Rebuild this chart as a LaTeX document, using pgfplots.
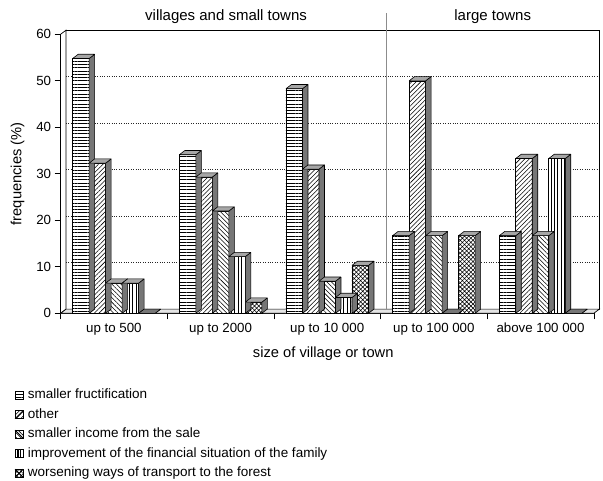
\documentclass[border=0pt]{standalone}
\usepackage{fontspec}
\setmainfont{Liberation Sans}
\usepackage{pgfplots}
\usepackage{pgfplotstable}
\pgfplotsset{compat=1.18}
\usetikzlibrary{patterns.meta}

\definecolor{sidegray}{HTML}{767676}
\definecolor{topgray}{HTML}{A6A6A6}
\definecolor{floorgray}{HTML}{E4E4E4}
\definecolor{sepgray}{HTML}{8C8C8C}

% depth of the pseudo-3D extrusion, bar width and vertical unit (pt)
\newcommand\dx{5.5}
\newcommand\dy{4.2}
\newcommand\bw{16.5}
\newcommand\yu{4.65}

% right side face and top face of a bar; the mark sits at the top centre of the front face
\pgfdeclareplotmark{bar3d}{%
  \pgfmathsetmacro\hh{\rawy*\yu}%
  \pgfsetlinewidth{0.6pt}%
  \pgfsetbeveljoin
  \pgfsetstrokecolor{black}%
  \pgfsetfillcolor{sidegray}%
  \pgfpathmoveto{\pgfpoint{0.5*\bw}{-\hh}}%
  \pgfpathlineto{\pgfpoint{0.5*\bw+\dx}{\dy-\hh}}%
  \pgfpathlineto{\pgfpoint{0.5*\bw+\dx}{\dy}}%
  \pgfpathlineto{\pgfpoint{0.5*\bw}{0}}%
  \pgfpathclose
  \pgfusepathqfillstroke
  % empty categories show only a dark lid lying on the floor
  \ifdim\hh pt<0.01pt\relax\pgfsetfillcolor{sidegray}\else\pgfsetfillcolor{topgray}\fi
  \pgfpathmoveto{\pgfpoint{-0.5*\bw}{0}}%
  \pgfpathlineto{\pgfpoint{-0.5*\bw+\dx}{\dy}}%
  \pgfpathlineto{\pgfpoint{0.5*\bw+\dx}{\dy}}%
  \pgfpathlineto{\pgfpoint{0.5*\bw}{0}}%
  \pgfpathclose
  \pgfusepathqfillstroke
}

% frequencies (%) of the reasons, by size of village or town
\pgfplotstableread{
cat s1   s2   s3   s4   s5
0   54.8 32.3 6.5  6.5  0
1   34.1 29.3 22.0 12.2 2.4
2   48.3 31.0 6.9  3.4  10.3
3   16.7 50.0 16.7 0    16.7
4   16.7 33.3 16.7 33.3 0
}\freqtable

\pgfplotsset{
  depth/.style={forget plot, scatter, only marks, mark=bar3d,
    scatter/use mapped color={draw=black, fill=black},
    visualization depends on={rawy \as \rawy},
    mark options={xshift=#1}},
  front/.style={ybar, bar width=\bw pt, bar shift=#1, draw=black,
    line width=0.6pt, fill=white},
}

\begin{document}
\begin{tikzpicture}
\useasboundingbox (-60.6pt,-166.7pt) rectangle ++(603pt,480pt);
\begin{axis}[
  x=106.65pt, y=\yu pt,
  xmin=-0.5, xmax=4.5, ymin=0, ymax=60,
  clip=false,
  axis x line*=bottom, axis y line*=left,
  axis line style={-, line width=0.7pt},
  xtick={-0.5,0.5,...,4.5},
  x tick label as interval,
  xticklabels={up to 500, up to 2000, up to 10 000, up to 100 000, above 100 000},
  ytick={0,10,...,60},
  tick align=outside,
  major tick length=6pt,
  tick style={black, line width=0.7pt},
  ymajorgrids,
  major grid style={dotted, line width=0.7pt, black!85, xshift=\dx pt, yshift=\dy pt},
  /pgf/number format/assume math mode=true,
  tick label style={font=\fontsize{13.3}{15}\selectfont},
  xlabel={size of village or town},
  ylabel={frequencies (\%)},
  every axis x label/.style={at={(axis description cs:0.5,0)}, anchor=center,
    yshift=-40pt, xshift=-4pt, font=\fontsize{14.7}{17}\selectfont},
  every axis y label/.style={at={(axis description cs:0,0.5)},
    xshift=-43pt, rotate=90, anchor=center, font=\fontsize{14.7}{17}\selectfont},
  legend style={at={(axis description cs:0,0)}, anchor=north west,
    xshift=-46pt, yshift=-73.2pt, draw=none, fill=none, inner sep=0pt,
    font=\fontsize{13.5}{16}\selectfont, row sep=2.5pt, column sep=2.5pt,
    nodes={inner sep=2pt, text height=10pt, text depth=3pt}},
  legend cell align=left,
]
% walls and floor
\draw[line width=0.7pt, fill=white]
  (axis cs:-0.5,0) -- (axis cs:-0.5,60)
  -- ([shift={(\dx pt,\dy pt)}]axis cs:-0.5,60)
  -- ([shift={(\dx pt,\dy pt)}]axis cs:-0.5,0) -- cycle;
\draw[line width=0.7pt]
  ([shift={(\dx pt,\dy pt)}]axis cs:-0.5,60)
  -- ([shift={(\dx pt,\dy pt)}]axis cs:4.5,60)
  -- ([shift={(\dx pt,\dy pt)}]axis cs:4.5,0);
\draw[line width=0.7pt, fill=floorgray]
  (axis cs:-0.5,0) -- (axis cs:4.5,0)
  -- ([shift={(\dx pt,\dy pt)}]axis cs:4.5,0)
  -- ([shift={(\dx pt,\dy pt)}]axis cs:-0.5,0) -- cycle;
% group separator and headers
\draw[sepgray, line width=0.9pt]
  ([shift={(\dx pt,\dy pt)}]axis cs:2.5,0) -- ([shift={(\dx pt,21.3pt)}]axis cs:2.5,60);
\node[anchor=base, font=\fontsize{15}{17}\selectfont]
  at ([shift={(\dx pt,14.3pt)}]axis cs:1,60) {villages and small towns};
\node[anchor=base, font=\fontsize{15}{17}\selectfont]
  at ([shift={(\dx pt,14.3pt)}]axis cs:3.5,60) {large towns};

\addplot[depth=-33pt] table[x=cat,y=s1]{\freqtable};
\addplot[front=-33pt,
  postaction={pattern={Lines[angle=0,distance=3.3pt,line width=0.55pt]}},
  legend image code/.code={\draw[line width=0.6pt] (0pt,-4pt) rectangle (8pt,4pt);
    \draw[line width=0.6pt] (0pt,1pt) -- (8pt,1pt);}]
  table[x=cat,y=s1]{\freqtable};
\addlegendentry{smaller fructification}

\addplot[depth=-16.5pt] table[x=cat,y=s2]{\freqtable};
\addplot[front=-16.5pt,
  postaction={pattern={Lines[angle=45,distance=3.2pt,line width=0.55pt]}},
  legend image code/.code={\draw[line width=0.6pt] (0pt,-4pt) rectangle (8pt,4pt);
    \draw[line width=0.6pt] (0pt,-4pt) -- (8pt,4pt);}]
  table[x=cat,y=s2]{\freqtable};
\addlegendentry{other}

\addplot[depth=0pt] table[x=cat,y=s3]{\freqtable};
\addplot[front=0pt,
  postaction={pattern={Lines[angle=-45,distance=3.2pt,line width=0.55pt]}},
  legend image code/.code={\draw[line width=0.6pt] (0pt,-4pt) rectangle (8pt,4pt);
    \draw[line width=0.6pt] (0pt,4pt) -- (8pt,-4pt);}]
  table[x=cat,y=s3]{\freqtable};
\addlegendentry{smaller income from the sale}

\addplot[depth=16.5pt] table[x=cat,y=s4]{\freqtable};
\addplot[front=16.5pt,
  postaction={pattern={Lines[angle=90,distance=3.4pt,line width=0.55pt]}},
  legend image code/.code={\draw[line width=0.6pt] (0pt,-4pt) rectangle (8pt,4pt);
    \draw[line width=0.6pt] (3pt,-4pt) -- (3pt,4pt) (5pt,-4pt) -- (5pt,4pt);}]
  table[x=cat,y=s4]{\freqtable};
\addlegendentry{improvement of the financial situation of the family}

\addplot[depth=33pt] table[x=cat,y=s5]{\freqtable};
\addplot[front=33pt,
  postaction={pattern={Hatch[angle=45,distance=3pt,line width=0.55pt]}},
  legend image code/.code={\draw[line width=0.6pt] (0pt,-4pt) rectangle (8pt,4pt);
    \draw[line width=0.6pt] (0pt,-4pt) -- (8pt,4pt) (0pt,4pt) -- (8pt,-4pt);}]
  table[x=cat,y=s5]{\freqtable};
\addlegendentry{worsening ways of transport to the forest}
\end{axis}
\end{tikzpicture}
\end{document}
